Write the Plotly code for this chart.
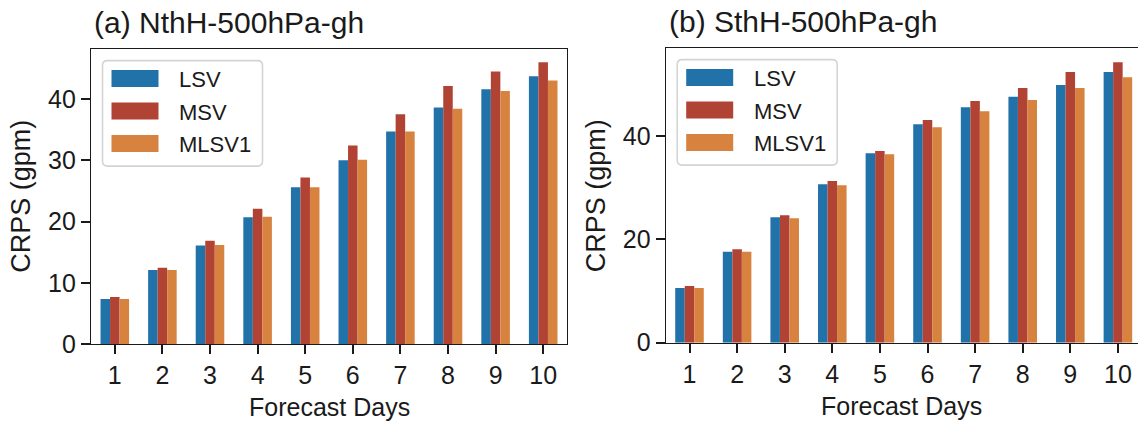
import plotly.graph_objects as go

# ---------------- data ----------------
days = [1, 2, 3, 4, 5, 6, 7, 8, 9, 10]
series_names = ["LSV", "MSV", "MLSV1"]

nth_lsv = [7.4, 12.1, 16.1, 20.7, 25.6, 30.0, 34.7, 38.6, 41.6, 43.7]
nth_msv = [7.7, 12.5, 16.9, 22.1, 27.2, 32.4, 37.5, 42.1, 44.5, 46.0]
nth_mlsv1 = [7.4, 12.1, 16.2, 20.8, 25.6, 30.1, 34.7, 38.4, 41.3, 43.0]

sth_lsv = [10.6, 17.6, 24.3, 30.7, 36.7, 42.3, 45.6, 47.6, 49.9, 52.4]
sth_msv = [11.0, 18.1, 24.7, 31.3, 37.1, 43.1, 46.8, 49.3, 52.4, 54.3]
sth_mlsv1 = [10.6, 17.6, 24.1, 30.5, 36.5, 41.7, 44.8, 47.0, 49.3, 51.4]

titles = ["(a) NthH-500hPa-gh", "(b) SthH-500hPa-gh"]
x_title = "Forecast Days"
y_title = "CRPS (gpm)"
y_ticks_a = [0, 10, 20, 30, 40]
y_ticks_b = [0, 20, 40]

colors = ["#2272AA", "#B14335", "#D7823E"]

# ---------------- layout geometry (pixels) ----------------
W, H = 1138, 421
FONT = "Liberation Sans, Arial, sans-serif"
INK = "#1a1a1a"
PX_PER_DAY = 47.6

axes_px = {
    "a": dict(x0=91.0, x1=567.0, yt=49.3, yb=344.3, ymax=48.1),
    "b": dict(x0=665.7, x1=1138.0, yt=48.3, yb=342.7, ymax=57.0),
}


def px_x(p):
    return p / W


def px_y(p):
    return 1 - p / H


fig = go.Figure()

panel_data = [
    ("x", "y", [nth_lsv, nth_msv, nth_mlsv1]),
    ("x2", "y2", [sth_lsv, sth_msv, sth_mlsv1]),
]
for xa, ya, vals in panel_data:
    for name, v, c in zip(series_names, vals, colors):
        fig.add_trace(go.Bar(
            x=days, y=v, name=name, marker=dict(color=c, line=dict(width=0)),
            xaxis=xa, yaxis=ya, showlegend=False, cliponaxis=False,
        ))

axis_common = dict(
    showline=True, linecolor=INK, linewidth=1.3,
    ticks="outside", ticklen=9, tickwidth=1.8, tickcolor=INK,
    showgrid=False, zeroline=False, automargin=False,
    tickfont=dict(family=FONT, size=25, color=INK),
)

layout = dict(
    width=W, height=H,
    margin=dict(l=0, r=0, t=0, b=0, autoexpand=False),
    paper_bgcolor="white", plot_bgcolor="white",
    barmode="group", bargap=0.4, bargroupgap=0,
    showlegend=False,
    font=dict(family=FONT, color=INK),
)

for key, xa, ya, yticks in [("a", "xaxis", "yaxis", y_ticks_a), ("b", "xaxis2", "yaxis2", y_ticks_b)]:
    g = axes_px[key]
    x_end = 0.5 + (g["x1"] - g["x0"]) / PX_PER_DAY
    layout[xa] = dict(
        axis_common,
        domain=[px_x(g["x0"]), px_x(g["x1"])],
        range=[0.5, x_end], tickvals=days, ticktext=[str(d) for d in days],
        mirror=True,
        anchor="y" if key == "a" else "y2",
    )
    layout[ya] = dict(
        axis_common,
        domain=[px_y(g["yb"]), px_y(g["yt"])],
        range=[0, g["ymax"]], tickvals=yticks,
        mirror=(key == "a"),
        anchor="x" if key == "a" else "x2",
    )

fig.update_layout(**layout)

# ---------------- titles and axis titles ----------------
for key, title in zip(["a", "b"], titles):
    g = axes_px[key]
    fig.add_annotation(
        text=title, xref="paper", yref="paper",
        x=px_x(g["x0"] + 1), y=px_y(g["yt"] - 8),
        xanchor="left", yanchor="bottom", showarrow=False,
        font=dict(family=FONT, size=30, color=INK),
    )
    # x-axis title
    fig.add_annotation(
        text=x_title, xref="paper", yref="paper",
        x=px_x((g["x0"] + min(g["x1"], g["x0"] + 476)) / 2), y=px_y(g["yb"] + 63),
        xanchor="center", yanchor="middle", showarrow=False,
        font=dict(family=FONT, size=25, color=INK),
    )
    # y-axis title
    fig.add_annotation(
        text=y_title, xref="paper", yref="paper", textangle=-90,
        x=px_x(g["x0"] - 70), y=px_y((g["yt"] + g["yb"]) / 2),
        xanchor="center", yanchor="middle", showarrow=False,
        font=dict(family=FONT, size=27, color=INK),
    )

# ---------------- legends (drawn per panel) ----------------
def rounded_rect_path(x0, y0, x1, y1, r):
    def P(x, y):
        return f"{px_x(x):.5f},{px_y(y):.5f}"
    return (
        f"M {P(x0 + r, y0)} L {P(x1 - r, y0)} Q {P(x1, y0)} {P(x1, y0 + r)} "
        f"L {P(x1, y1 - r)} Q {P(x1, y1)} {P(x1 - r, y1)} "
        f"L {P(x0 + r, y1)} Q {P(x0, y1)} {P(x0, y1 - r)} "
        f"L {P(x0, y0 + r)} Q {P(x0, y0)} {P(x0 + r, y0)} Z"
    )


for key in ["a", "b"]:
    g = axes_px[key]
    bx0, by0 = g["x0"] + 11.5, g["yt"] + 11.3
    bx1, by1 = g["x0"] + 171.5, g["yt"] + 116.8
    fig.add_shape(
        type="path", xref="paper", yref="paper",
        path=rounded_rect_path(bx0, by0, bx1, by1, 5),
        line=dict(color="#d4d4d4", width=1.6), fillcolor="rgba(255,255,255,0.85)",
        layer="above",
    )
    for i, (name, c) in enumerate(zip(series_names, colors)):
        cy = g["yt"] + 29.2 + i * 32.5
        sx0 = g["x0"] + 20.5
        fig.add_shape(
            type="rect", xref="paper", yref="paper",
            x0=px_x(sx0), x1=px_x(sx0 + 47), y0=px_y(cy + 8.4), y1=px_y(cy - 8.4),
            line=dict(width=0), fillcolor=c, layer="above",
        )
        fig.add_annotation(
            text=name, xref="paper", yref="paper",
            x=px_x(g["x0"] + 86), y=px_y(cy + 1),
            xanchor="left", yanchor="middle", showarrow=False,
            font=dict(family=FONT, size=22, color=INK),
        )

fig.write_html(
    "out.html",
    config={"displayModeBar": False},
    post_script="document.body.style.margin='0';document.body.style.overflow='hidden';",
)
